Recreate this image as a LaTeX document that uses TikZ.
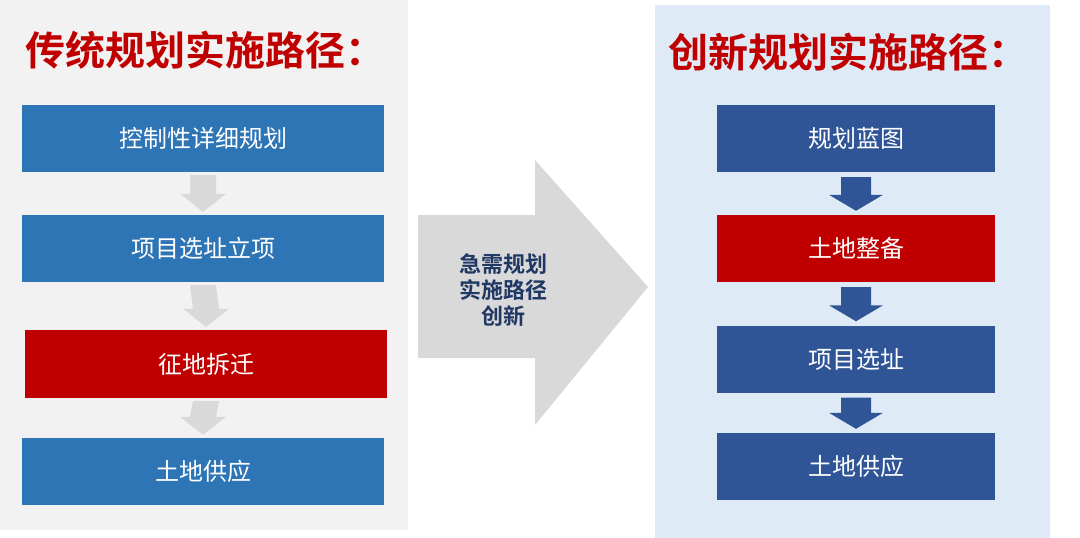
\documentclass[tikz,border=0pt]{standalone}
\usepackage{fontspec}
\usetikzlibrary{calc}
\setmainfont{Noto Sans CJK SC}[BoldFont={Noto Sans CJK SC Bold}]
\definecolor{lblue}{HTML}{2E75B6}
\definecolor{dblue}{HTML}{2F5597}
\definecolor{myred}{HTML}{C00000}
\definecolor{lgray}{HTML}{F2F2F2}
\definecolor{bgblue}{HTML}{DEEBF7}
\definecolor{agray}{HTML}{D9D9D9}
\definecolor{txtblue}{HTML}{1F3864}
\tikzset{
  box/.style={minimum width=#1, minimum height=67pt, text=white, font=\fontsize{24}{28}\selectfont, inner sep=0pt},
  title/.style={text=myred, font=\bfseries\fontsize{40}{46}\selectfont, anchor=west, inner sep=0pt}
}
\begin{document}
\begin{tikzpicture}[x=1pt,y=-1pt]
\useasboundingbox (0,0) rectangle (1080,538);
\fill[white] (0,0) rectangle (1080,538);
\fill[lgray] (0,0) rectangle (408,530);
\fill[bgblue] (655,5) rectangle (1050,538);
\node[title] (t1) at (25,50) {传统规划实施路径：};
\node[title] (t2) at (668,52) {创新规划实施路径：};
% left
\node[box=362pt, fill=lblue] (l1) at (203,138.5) {控制性详细规划};
\node[box=362pt, fill=lblue] (l2) at (203,248.5) {项目选址立项};
\node[box=362pt, fill=myred, minimum height=68pt] (l3) at (206,364) {征地拆迁};
\node[box=362pt, fill=lblue] (l4) at (203,471.5) {土地供应};
\foreach \a/\b in {l1/l2,l2/l3,l3/l4}{
  \path (\a.south) ++(0,3) coordinate (s) (\b.north) ++(0,-3) coordinate (e);
  \fill[agray] ($(s)+(-13,0)$) -- ($(s)+(13,0)$) -- ($(e)+(13,-18)$) -- ($(e)+(23,-18)$) -- (e) -- ($(e)+(-23,-18)$) -- ($(e)+(-13,-18)$) -- cycle;
}
% right
\node[box=278pt, fill=dblue] (r1) at (856,138.5) {规划蓝图};
\node[box=278pt, fill=myred] (r2) at (856,248.5) {土地整备};
\node[box=278pt, fill=dblue] (r3) at (856,359) {项目选址};
\node[box=278pt, fill=dblue] (r4) at (856,466.5) {土地供应};
\foreach \a/\b in {r1/r2,r2/r3,r3/r4}{
  \path (\a.south) ++(0,5) coordinate (s) (\b.north) ++(0,-4) coordinate (e);
  \fill[dblue] ($(s)+(-15,0)$) -- ($(s)+(15,0)$) -- ($(e)+(15,-16)$) -- ($(e)+(27,-16)$) -- (e) -- ($(e)+(-27,-16)$) -- ($(e)+(-15,-16)$) -- cycle;
}
% big arrow
\fill[agray] (418,215) -- (535,215) -- (535,160) -- (648,287) -- (535,425) -- (535,358) -- (418,358) -- cycle;
\node[text=txtblue, font=\bfseries\fontsize{22}{26}\selectfont, align=center] (mid) at (503,290) {急需规划\\实施路径\\创新};
\end{tikzpicture}
\end{document}
